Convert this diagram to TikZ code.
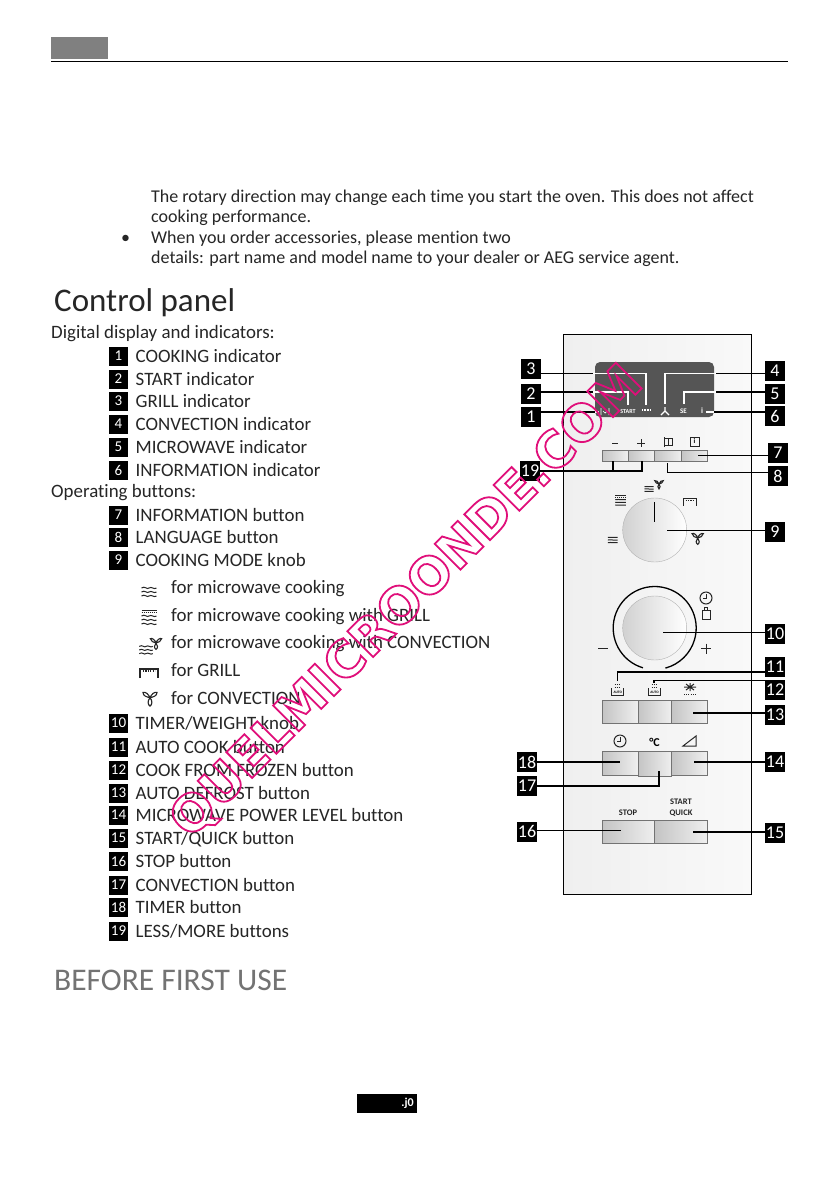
\documentclass[tikz,border=0pt]{standalone}
\usepackage{fontspec}
\setmainfont{Carlito}[Ligatures={NoCommon}]
\newfontfamily\wmfont{DejaVu Sans}[BoldFont={DejaVu Sans Bold}]
\usetikzlibrary{calc}
\definecolor{panelL}{HTML}{EFEFEF}
\definecolor{panelR}{HTML}{F9F9F9}
\definecolor{dispbg}{HTML}{555555}
\definecolor{wm}{HTML}{E0107A}
\definecolor{btnL}{HTML}{C4C4C4}
\definecolor{btnR}{HTML}{EFEFEF}
\tikzset{
 body/.style={anchor=base west,inner sep=0pt,font=\fontsize{18}{20}\selectfont,text=black!85},
 listtxt/.style={anchor=base west,inner sep=0pt,font=\fontsize{18.9}{20}\selectfont,text=black!85},
 numbox/.style={fill=black,text=white,minimum width=20pt,minimum height=20pt,inner sep=0pt,font=\fontsize{18}{18}\selectfont},
 numsmall/.style={fill=black,text=white,minimum width=19pt,minimum height=19pt,inner sep=0pt,font=\fontsize{15}{15}\selectfont},
 btn/.style={draw=black!55,line width=.8pt,left color=btnL,right color=btnR},
 lead/.style={line width=1.5pt,black},
 wlead/.style={line width=1.3pt,white},
 ico/.style={line width=1pt,black!85},
 disptxt/.style={text=white,font=\bfseries\fontsize{6}{6}\selectfont,inner sep=0pt},
 paneltxt/.style={text=black!85,inner sep=0pt,font=\bfseries\fontsize{8.5}{11}\selectfont,align=center},
 pics/waves/.style={code={
  \foreach \yy in {-4,0,4}{\draw[ico] (-7.5,\yy) .. controls (-4,\yy-2.5) and (-2,\yy+2) .. (0,\yy) .. controls (2.5,\yy-2) and (5,\yy+2) .. (7.5,\yy);}
 }},
 pics/wavesg/.style={code={
  \draw[ico] (-7.5,-7.5) -- (7.5,-7.5);
  \draw[ico,dash pattern=on 1pt off 1pt] (-7.5,-5.5) -- (7.5,-5.5);
  \foreach \yy in {-2,2,6}{\draw[ico] (-7.5,\yy) .. controls (-4,\yy-2.5) and (-2,\yy+2) .. (0,\yy) .. controls (2.5,\yy-2) and (5,\yy+2) .. (7.5,\yy);}
 }},
 pics/fan/.style={code={
  \draw[ico,line width=1.1pt] (0,0) .. controls (-1,-4) and (-5,-6.5) .. (-7,-5.5) .. controls (-7,-2) and (-3,-1) .. (0,0);
  \draw[ico,line width=1.1pt] (0,0) .. controls (1,-4) and (5,-6.5) .. (7,-5.5) .. controls (7,-2) and (3,-1) .. (0,0);
  \draw[ico,line width=1.1pt] (0,0) .. controls (-2.5,2) and (-2.5,7) .. (0,8) .. controls (2.5,7) and (2.5,2) .. (0,0);
 }},
 pics/grill/.style={code={
  \draw[ico,line width=1.1pt] (-9,6) -- (-9,-3) -- (9,-3) -- (9,6);
  \draw[ico,line width=1.1pt,dash pattern=on 1.2pt off 1.2pt] (-6,-1) -- (6,-1);
 }},
 pics/clockic/.style={code={
  \draw[ico] (0,0) circle (6);
  \draw[ico] (0,-4) -- (0,0) -- (-3.5,0);
 }},
}
\begin{document}
\begin{tikzpicture}[x=1pt,y=-1pt]
\useasboundingbox (0,0) rectangle (840,1192);
\fill[white] (0,0) rectangle (840,1192);
% header
\fill[black!50] (51,37) rectangle (108,59);
\draw[line width=1pt] (51,61) -- (788,61);
% top text
\node[body] (t1) at (151,202) {The rotary direction may change each time you start the oven. This does not affect};
\node[body] (t2) at (151,222) {cooking performance.};
\node[body] (bul) at (121,243) {•};
\node[body] (t3) at (151,243) {When you order accessories, please mention two};
\node[body] (t4) at (151,263) {details: part name and model name to your dealer or AEG service agent.};
\node[anchor=base west,inner sep=0pt,font=\fontsize{33}{36}\selectfont,text=black!85] (h1) at (54,311) {Control panel};
\node[anchor=base west,inner sep=0pt,font=\fontsize{31.5}{36}\selectfont,text=black!55] (h2) at (54,990) {BEFORE FIRST USE};
% left list
\node[listtxt] (s1) at (51,338) {Digital display and indicators:};
\node[listtxt] (s2) at (51,497) {Operating buttons:};
\foreach \n/\y/\tx in {1/356/{COOKING indicator},2/379/{START indicator},3/401/{GRILL indicator},4/424/{CONVECTION indicator},5/447/{MICROWAVE indicator},6/470/{INFORMATION indicator},7/515/{INFORMATION button},8/537/{LANGUAGE button},9/560/{COOKING MODE knob},10/723/{TIMER/WEIGHT knob},11/747/{AUTO COOK button},12/770/{COOK FROM FROZEN button},13/793/{AUTO DEFROST button},14/815/{MICROWAVE POWER LEVEL button},15/838/{START/QUICK button},16/861/{STOP button},17/885/{CONVECTION button},18/907/{TIMER button},19/931/{LESS/MORE buttons}}{
 \node[numsmall] (L\n) at (118.5,\y) {\n};
 \node[listtxt] (LT\n) at (135.5,\y+6) {\tx};
}
\node[listtxt] (m1) at (171,593) {for microwave cooking};
\node[listtxt] (m2) at (171,621) {for microwave cooking with GRILL};
\node[listtxt] (m3) at (171,648) {for microwave cooking with CONVECTION};
\node[listtxt] (m4) at (171,676) {for GRILL};
\node[listtxt] (m5) at (171,704) {for CONVECTION};
\pic at (149,592) {waves};
\pic at (149,618) {wavesg};
\pic[scale=.9] at (146,650) {waves};
\pic[scale=.8] at (156,643) {fan};
\pic at (149,672) {grill};
\pic at (150,698) {fan};
% panel
\draw[line width=1pt,left color=panelL,right color=panelR] (563,334) rectangle (751.5,894);
\fill[dispbg,rounded corners=5pt] (595,362) rectangle (714,417);
% display labels
\node[disptxt] (dS) at (628,411.5) {START};
\draw[white,line width=.7pt] (601,408) -- (601,415) (609,408) -- (609,415) (603,411) -- (605,413) -- (607,411);
\draw[white,line width=1.6pt,dash pattern=on 1pt off .5pt] (642,410) -- (651,410);
\draw[white,line width=1.1pt] (665,407) -- (665,411) (661,415) -- (665,411) -- (669,415);
\node[disptxt,font=\bfseries\fontsize{7}{7}\selectfont] (dSE) at (683.5,411.5) {SE};
\node[disptxt,font=\bfseries\fontsize{8}{8}\selectfont] (di) at (702,411) {i};
% buttons
\draw[btn] (602.5,450) rectangle (628,461);
\draw[btn] (628,450) rectangle (654.7,461);
\draw[btn] (654.7,450) rectangle (681,461);
\draw[btn] (681,450) rectangle (707.6,461);
\draw[ico,line width=1pt] (612,443) -- (618,443) (637,443) -- (645,443) (641,439) -- (641,447);
\draw[ico] (664,437) -- (664,447) (664,438) rectangle (672,445) (668,438) -- (668,445);
\draw[ico] (690,437) rectangle (699,446);
\node[font=\bfseries\fontsize{7}{7}\selectfont,inner sep=0pt] (iI) at (694.5,441.5) {i};
% knob 1
\node[circle,minimum size=64pt,inner sep=0pt,draw=black!30,left color=black!18,right color=white] (k1) at (654.7,530) {};
\draw[line width=1.3pt] (654.7,502) -- (654.7,521.5);
\pic[scale=.7] at (620.5,501) {wavesg};
\pic[scale=.6] at (649,489) {waves};
\pic[scale=.6] at (659,484) {fan};
\pic[scale=.75] at (690,501) {grill};
\pic[scale=.65] at (612.7,540) {waves};
\pic[scale=.8] at (697.7,538) {fan};
% knob 2
\draw[line width=1.3pt] (654.7,628) ++(106.5:41.5) arc[start angle=106.5,end angle=435,radius=41.5];
\node[circle,minimum size=64pt,inner sep=0pt,draw=black!30,left color=black!18,right color=white] (k2) at (654.7,628) {};
\pic at (706,598) {clockic};
\draw[ico] (702,610) rectangle (710,619.5) (704.5,610) -- (704.5,607.5) -- (707.5,607.5) -- (707.5,610);
\draw[ico,line width=1pt] (598,648.7) -- (608,648.7) (701,648.7) -- (711,648.7) (706,643.7) -- (706,653.7);
% row 2
\draw[btn] (602.5,700) rectangle (638,723);
\draw[btn] (638,700) rectangle (671.7,723);
\draw[btn] (671.7,700) rectangle (707,723);
\foreach \x in {617.7,654.5}{
 \draw[ico] (\x-6,688) -- (\x-6,695) -- (\x+6,695) -- (\x+6,688);
 \draw[ico,dash pattern=on 1pt off 1pt] (\x-3,684) -- (\x+3,684) (\x-3,687) -- (\x+3,687);
 \node[inner sep=0pt,font=\bfseries\fontsize{3.5}{4}\selectfont] at (\x,692.5) {AUTO};
}
\draw[ico] (684,687) -- (696,687) (686,684) -- (694,690) (694,684) -- (686,690) (690,683) -- (690,691);
\draw[ico,dash pattern=on 1pt off 1.2pt] (684,694.5) -- (696,694.5);
% row 3
\draw[btn] (602.5,751) rectangle (638,775);
\draw[btn] (638,751) rectangle (671.7,776);
\draw[btn] (671.7,751) rectangle (707,775);
\pic at (620,741) {clockic};
\node[inner sep=0pt,font=\bfseries\fontsize{12}{12}\selectfont] (dc) at (654.5,742) {°C};
\draw[ico] (683,746) -- (696,746) -- (696,736) -- cycle;
% row 4
\draw[btn] (602.5,820) rectangle (654.7,843.5);
\draw[btn] (654.7,820) rectangle (707,843.5);
\node[paneltxt] (tStop) at (628,813) {STOP};
\node[paneltxt] (tStart) at (681,807.5) {START\\QUICK};
% number boxes panel
\foreach \n/\x/\y in {3/531/369,2/531/394,1/531/417,4/775/371,5/775/394,6/775/416,7/778/453,8/778/476,9/775/532,19/530/471,10/775/633.5,11/775/667,12/775/690,13/775/715,14/775/762,15/775/832.5,16/527/831.5,17/527/786,18/527/762}{
 \node[numbox] (P\n) at (\x,\y) {\n};
}
% targets
\coordinate (d3) at (593,373.7); \coordinate (c3) at (646,373.7); \coordinate (e3) at (646,405);
\coordinate (d2) at (593,392); \coordinate (c2) at (628,392); \coordinate (e2) at (628,405);
\coordinate (d1) at (595,412); \coordinate (e1) at (599,412);
\coordinate (d4) at (716,373.7); \coordinate (c4) at (665,373.7); \coordinate (e4) at (665,404);
\coordinate (d5) at (716,392); \coordinate (c5) at (684,392); \coordinate (e5) at (684,404);
\coordinate (d6) at (714,412); \coordinate (e6) at (706,412);
\draw[lead] (P3.east |- d3) -- (d3);
\draw[wlead] (d3) -- (c3) -- (e3);
\draw[lead] (P2.east |- d2) -- (d2);
\draw[wlead] (d2) -- (c2) -- (e2);
\draw[lead] (P1.east |- d1) -- (d1);
\draw[wlead] (d1) -- (e1);
\draw[lead] (P4.west |- d4) -- (d4);
\draw[wlead] (d4) -- (c4) -- (e4);
\draw[lead] (P5.west |- d5) -- (d5);
\draw[wlead] (d5) -- (c5) -- (e5);
\draw[lead] (P6.west |- d6) -- (d6);
\draw[wlead] (d6) -- (e6);
\coordinate (t7) at (698,455.7); \draw[lead] (P7.west |- t7) -- (t7);
\coordinate (t8) at (667.7,463); \draw[lead] (P8.west |- 0,472.7) -- (667.7,472.7) -- (t8);
\coordinate (t19a) at (613,461); \coordinate (t19b) at (642,461);
\draw[lead] (P19.east) -- (642,471) -- (t19b);
\draw[lead] (613,471) -- (t19a);
\coordinate (t9) at (667,530.7); \draw[lead] (P9.west |- t9) -- (t9);
\coordinate (t10) at (663,632.7); \draw[lead] (P10.west |- t10) -- (t10);
\coordinate (t11) at (617.7,681); \draw[lead] (P11.west |- 0,672) -- (617.7,672) -- (t11);
\coordinate (t12) at (654,683); \draw[lead] (P12.west |- 0,680.7) -- (654,680.7) -- (t12);
\coordinate (t13) at (693,713); \draw[lead] (P13.west |- t13) -- (t13);
\coordinate (t14) at (694,762); \draw[lead] (P14.west |- t14) -- (t14);
\coordinate (t15) at (693,832); \draw[lead] (P15.west |- t15) -- (t15);
\coordinate (t16) at (620.7,830.7); \draw[lead] (P16.east |- t16) -- (t16);
\coordinate (t17) at (659,771); \draw[lead] (P17.east |- 0,786) -- (659,786) -- (t17);
\coordinate (t18) at (620,762); \draw[lead] (P18.east |- t18) -- (t18);
% bottom box
\fill[black] (357,1094) rectangle (417,1113);
\node[text=white,inner sep=0pt,anchor=east,font=\bfseries\fontsize{12}{12}\selectfont] (pg) at (414,1103) {.j0};
% watermark
\node[inner sep=0pt,rotate=45,text=wm,font=\wmfont\bfseries\fontsize{50}{60}\selectfont] (wm) at (407,602) {\special{pdf:code q 1 Tr 1.8 w 0.88 0.06 0.48 RG}QUELMICROONDE.COM\special{pdf:code Q}};
\end{tikzpicture}
\end{document}
